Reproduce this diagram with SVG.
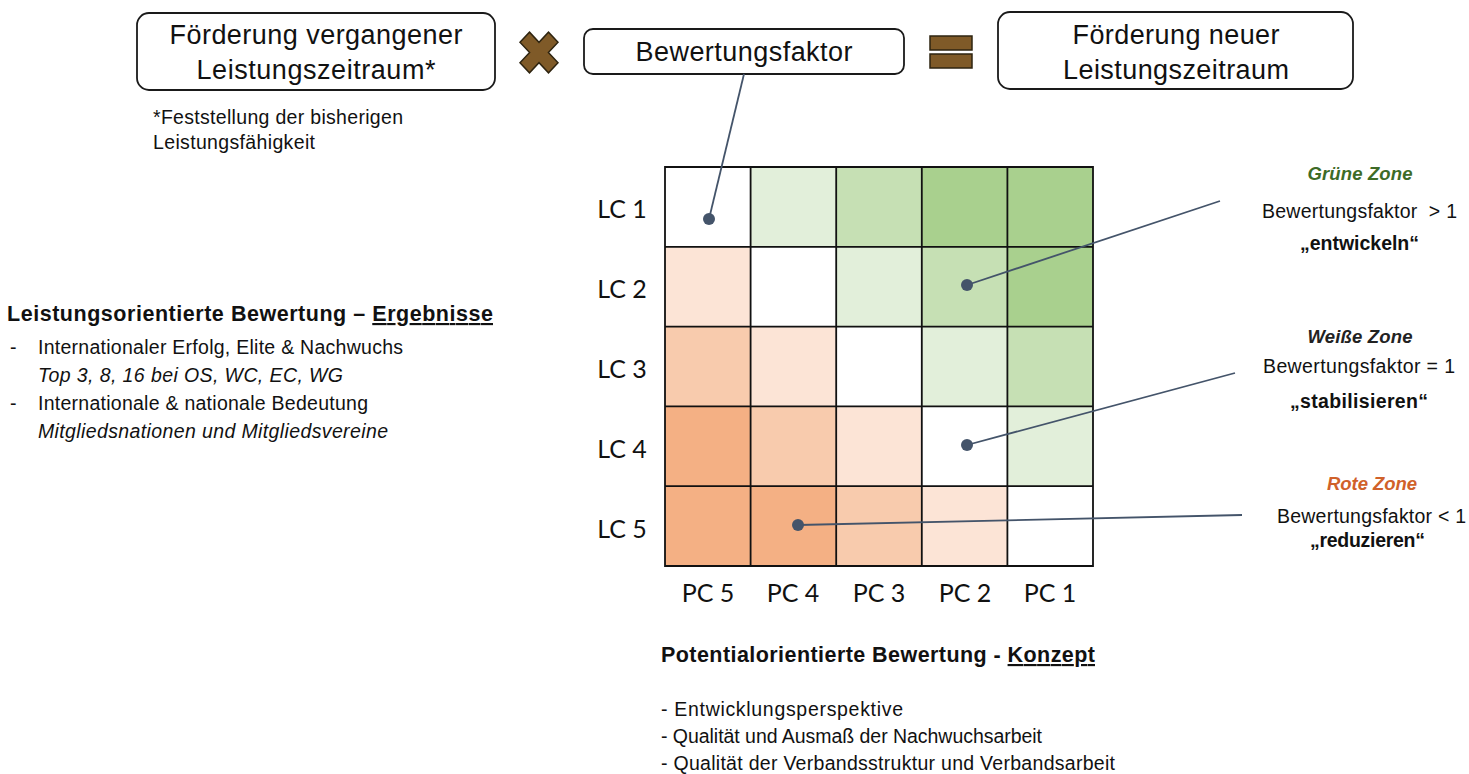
<svg xmlns="http://www.w3.org/2000/svg" width="1469" height="774" viewBox="0 0 1469 774">
<style>
  .bg { fill: #ffffff; }
  .box { fill: #ffffff; stroke: #1a1a1a; stroke-width: 1.8; }
  .op { fill: #7F5A28; stroke: #2E2410; stroke-width: 1.5; }
  .t { font-family: "Liberation Sans", Arial, sans-serif; fill: #111111; }
  .big { font-size: 27px; }
  .mid { font-size: 19.5px; }
  .sm { font-size: 18.5px; }
  .bl { font-size: 19.5px; }
  .b { font-weight: bold; }
  .i { font-style: italic; }
  .c { text-anchor: middle; }
  .lab { font-family: Lato, "Open Sans", sans-serif; font-size: 25px; fill: #111111; text-anchor: middle; }
  .w { fill: #FFFFFF; }
  .g1 { fill: #E2EFDA; }
  .g2 { fill: #C6E0B4; }
  .g3 { fill: #A9D08E; }
  .o1 { fill: #FCE4D6; }
  .o2 { fill: #F8CBAD; }
  .o3 { fill: #F4B084; }
  .grid { stroke: #111111; stroke-width: 1.8; fill: none; }
  .conn { stroke: #44546A; stroke-width: 1.8; fill: none; }
  .dot { fill: #44546A; }
</style>
<rect class="bg" x="0" y="0" width="1469" height="774"/>

<g id="box-past">
  <rect class="box" x="137" y="13" width="358" height="77" rx="12"/>
  <text class="t big c" x="316" y="44" textLength="293" lengthAdjust="spacing">Förderung vergangener</text>
  <text class="t big c" x="316" y="79" textLength="239" lengthAdjust="spacing">Leistungszeitraum*</text>
</g>

<g id="footnote">
  <text class="t mid" x="153" y="124" textLength="250" lengthAdjust="spacing">*Feststellung der bisherigen</text>
  <text class="t mid" x="153" y="149" textLength="162" lengthAdjust="spacing">Leistungsfähigkeit</text>
</g>

<g id="op-multiply">
  <polygon class="op" transform="translate(539,52.5) scale(0.95,1.02)" points="-10,-20 0,-9.9 10,-20 20,-10 9.9,0 20,10 10,20 0,9.9 -10,20 -20,10 -9.9,0 -20,-10"/>
</g>

<g id="box-factor">
  <rect class="box" x="584" y="29" width="320" height="45" rx="9"/>
  <text class="t big c" x="744" y="61" textLength="217" lengthAdjust="spacing">Bewertungsfaktor</text>
</g>

<g id="op-equals">
  <rect class="op" x="930" y="36" width="42" height="14"/>
  <rect class="op" x="930" y="54" width="42" height="14"/>
</g>

<g id="box-new">
  <rect class="box" x="998" y="12" width="355" height="77" rx="12"/>
  <text class="t big c" x="1176" y="44" textLength="207" lengthAdjust="spacing">Förderung neuer</text>
  <text class="t big c" x="1176" y="79" textLength="226" lengthAdjust="spacing">Leistungszeitraum</text>
</g>

<g id="matrix">
  <rect class="w"  x="665"   y="167"   width="85.6" height="79.8"/>
  <rect class="g1" x="750.6" y="167"   width="85.6" height="79.8"/>
  <rect class="g2" x="836.2" y="167"   width="85.6" height="79.8"/>
  <rect class="g3" x="921.8" y="167"   width="85.6" height="79.8"/>
  <rect class="g3" x="1007.4" y="167"  width="85.6" height="79.8"/>

  <rect class="o1" x="665"   y="246.8" width="85.6" height="79.8"/>
  <rect class="w"  x="750.6" y="246.8" width="85.6" height="79.8"/>
  <rect class="g1" x="836.2" y="246.8" width="85.6" height="79.8"/>
  <rect class="g2" x="921.8" y="246.8" width="85.6" height="79.8"/>
  <rect class="g3" x="1007.4" y="246.8" width="85.6" height="79.8"/>

  <rect class="o2" x="665"   y="326.6" width="85.6" height="79.8"/>
  <rect class="o1" x="750.6" y="326.6" width="85.6" height="79.8"/>
  <rect class="w"  x="836.2" y="326.6" width="85.6" height="79.8"/>
  <rect class="g1" x="921.8" y="326.6" width="85.6" height="79.8"/>
  <rect class="g2" x="1007.4" y="326.6" width="85.6" height="79.8"/>

  <rect class="o3" x="665"   y="406.4" width="85.6" height="79.8"/>
  <rect class="o2" x="750.6" y="406.4" width="85.6" height="79.8"/>
  <rect class="o1" x="836.2" y="406.4" width="85.6" height="79.8"/>
  <rect class="w"  x="921.8" y="406.4" width="85.6" height="79.8"/>
  <rect class="g1" x="1007.4" y="406.4" width="85.6" height="79.8"/>

  <rect class="o3" x="665"   y="486.2" width="85.6" height="79.8"/>
  <rect class="o3" x="750.6" y="486.2" width="85.6" height="79.8"/>
  <rect class="o2" x="836.2" y="486.2" width="85.6" height="79.8"/>
  <rect class="o1" x="921.8" y="486.2" width="85.6" height="79.8"/>
  <rect class="w"  x="1007.4" y="486.2" width="85.6" height="79.8"/>

  <path class="grid" d="M665,167H1093V566H665Z M750.6,167V566 M836.2,167V566 M921.8,167V566 M1007.4,167V566 M665,246.8H1093 M665,326.6H1093 M665,406.4H1093 M665,486.2H1093"/>

  <text class="lab" x="622" y="218">LC 1</text>
  <text class="lab" x="622" y="298">LC 2</text>
  <text class="lab" x="622" y="378">LC 3</text>
  <text class="lab" x="622" y="458">LC 4</text>
  <text class="lab" x="622" y="538">LC 5</text>

  <text class="lab" x="708" y="602">PC 5</text>
  <text class="lab" x="793" y="602">PC 4</text>
  <text class="lab" x="879" y="602">PC 3</text>
  <text class="lab" x="965" y="602">PC 2</text>
  <text class="lab" x="1050" y="602">PC 1</text>
</g>

<g id="connectors">
  <line class="conn" x1="709" y1="219" x2="744" y2="74"/>
  <line class="conn" x1="967" y1="285" x2="1220" y2="201"/>
  <line class="conn" x1="967" y1="445" x2="1235" y2="373"/>
  <line class="conn" x1="798" y1="525" x2="1242" y2="515"/>
  <circle class="dot" cx="709" cy="219" r="6"/>
  <circle class="dot" cx="967" cy="285" r="6"/>
  <circle class="dot" cx="967" cy="445" r="6"/>
  <circle class="dot" cx="798" cy="525" r="6"/>
</g>

<g id="zone-green">
  <text class="t sm b i c" x="1360" y="180" textLength="105" lengthAdjust="spacing" style="fill:#3D6B27">Grüne Zone</text>
  <text class="t mid c" x="1359.5" y="218" textLength="195" lengthAdjust="spacing" xml:space="preserve">Bewertungsfaktor  &gt; 1</text>
  <text class="t mid b c" x="1359.5" y="250" textLength="119" lengthAdjust="spacing">„entwickeln“</text>
</g>

<g id="zone-white">
  <text class="t sm b i c" x="1360" y="343" textLength="105" lengthAdjust="spacing" style="fill:#222222">Weiße Zone</text>
  <text class="t mid c" x="1359" y="373" textLength="192" lengthAdjust="spacing">Bewertungsfaktor = 1</text>
  <text class="t mid b c" x="1359" y="408" textLength="138" lengthAdjust="spacing">„stabilisieren“</text>
</g>

<g id="zone-red">
  <text class="t sm b i c" x="1372" y="490" textLength="90" lengthAdjust="spacing" style="fill:#D0612A">Rote Zone</text>
  <text class="t mid c" x="1371.5" y="523" textLength="189" lengthAdjust="spacing">Bewertungsfaktor &lt; 1</text>
  <text class="t mid b c" x="1367.5" y="547" textLength="115" lengthAdjust="spacing">„reduzieren“</text>
</g>

<g id="left-text">
  <text class="t b" x="7" y="321" style="font-size:21.5px" textLength="486" lengthAdjust="spacing">Leistungsorientierte Bewertung – <tspan text-decoration="underline">Ergebnisse</tspan></text>
  <text class="t mid" x="10" y="354">-</text>
  <text class="t mid" x="38" y="354" textLength="365" lengthAdjust="spacing">Internationaler Erfolg, Elite &amp; Nachwuchs</text>
  <text class="t mid i" x="38" y="382" textLength="305" lengthAdjust="spacing">Top 3, 8, 16 bei OS, WC, EC, WG</text>
  <text class="t mid" x="10" y="410">-</text>
  <text class="t mid" x="38" y="410" textLength="330" lengthAdjust="spacing">Internationale &amp; nationale Bedeutung</text>
  <text class="t mid i" x="38" y="438" textLength="350" lengthAdjust="spacing">Mitgliedsnationen und Mitgliedsvereine</text>
</g>

<g id="bottom-text">
  <text class="t b" x="661" y="662" style="font-size:21.5px" textLength="434" lengthAdjust="spacing">Potentialorientierte Bewertung - <tspan text-decoration="underline">Konzept</tspan></text>
  <text class="t bl" x="661" y="716" textLength="242" lengthAdjust="spacing">- Entwicklungsperspektive</text>
  <text class="t bl" x="661" y="743" textLength="381" lengthAdjust="spacing">- Qualität und Ausmaß der Nachwuchsarbeit</text>
  <text class="t bl" x="661" y="770" textLength="454" lengthAdjust="spacing">- Qualität der Verbandsstruktur und Verbandsarbeit</text>
</g>
</svg>
